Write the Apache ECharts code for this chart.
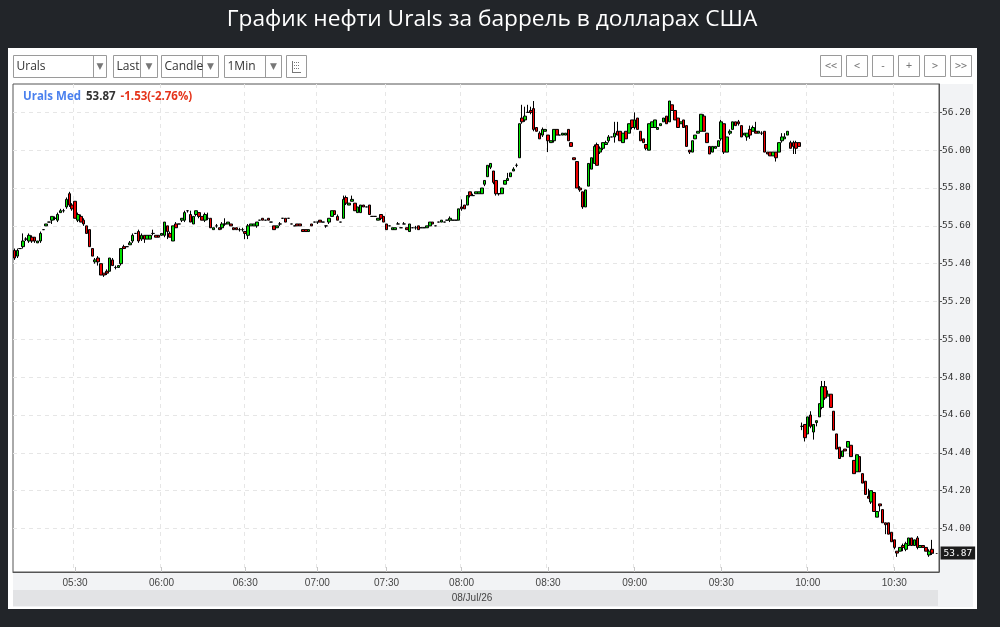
<!DOCTYPE html>
<html>
<head>
<meta charset="utf-8">
<script src="https://cdn.jsdelivr.net/npm/echarts@6/dist/echarts.min.js"></script>
<style>
html,body{margin:0;padding:0;background:#222529;}
#chart{width:1000px;height:627px;}
</style>
</head>
<body>
<div id="chart"></div>
<script>
// ---------------- DATA ----------------
const chartTitle = 'График нефти Urals за баррель в долларах США';
const instrumentName = 'Urals Med';
const changeText = '-1.53(-2.76%)';
const dateLabel = '08/Jul/26';
const startMinute = '05:09';
// minutes with no trades (not shown on the category axis)
const missingMinutes = ['06:17','06:36','06:41','06:46','06:51','06:56','07:04','07:08','07:13','07:18','07:22','07:26','07:35','07:42','07:48','07:54'];
const emptySlotsAtEnd = 2;
const xLabelMinutes = ['00', '30'];
const yTickValues = [54.0, 54.2, 54.4, 54.6, 54.8, 55.0, 55.2, 55.4, 55.6, 55.8, 56.0, 56.2];
const yMin = 53.77;
const yMax = 56.35;
const dropdownLabels = ['Urals', 'Last', 'Candle', '1Min'];
const navButtonLabels = ['<<', '<', '-', '+', '>', '>>'];

// 1-minute candles: [open, close, low, high]
const candles = [
  // 05:09 - 05:29
  [55.47,55.43,55.42,55.48],[55.44,55.47,55.43,55.48],[55.48,55.48,55.48,55.48],[55.49,55.52,55.48,55.56],
  [55.53,55.53,55.52,55.54],[55.52,55.55,55.51,55.56],[55.54,55.52,55.51,55.55],[55.54,55.52,55.51,55.54],
  [55.51,55.52,55.51,55.52],[55.52,55.56,55.51,55.57],[55.58,55.58,55.58,55.58],[55.60,55.61,55.60,55.61],
  [55.62,55.62,55.62,55.62],[55.63,55.65,55.61,55.65],[55.64,55.64,55.63,55.65],[55.63,55.66,55.62,55.67],
  [55.67,55.68,55.67,55.69],[55.68,55.68,55.67,55.69],[55.70,55.74,55.69,55.75],[55.77,55.71,55.70,55.78],
  [55.71,55.69,55.68,55.72],
  // 05:30 - 05:59
  [55.73,55.64,55.64,55.73],[55.63,55.66,55.62,55.67],[55.65,55.62,55.62,55.66],[55.63,55.61,55.60,55.64],
  [55.60,55.56,55.56,55.60],[55.58,55.49,55.49,55.58],[55.48,55.44,55.44,55.48],[55.41,55.42,55.40,55.43],
  [55.43,55.41,55.39,55.44],[55.40,55.34,55.34,55.40],[55.35,55.34,55.33,55.35],[55.36,55.35,55.34,55.37],
  [55.36,55.43,55.36,55.43],[55.42,55.39,55.39,55.43],[55.38,55.38,55.37,55.39],[55.38,55.39,55.38,55.39],
  [55.40,55.48,55.39,55.48],[55.49,55.48,55.48,55.50],[55.49,55.49,55.49,55.49],[55.50,55.51,55.50,55.52],
  [55.52,55.55,55.51,55.56],[55.56,55.56,55.56,55.56],[55.57,55.52,55.51,55.58],[55.53,55.55,55.52,55.56],
  [55.55,55.53,55.51,55.55],[55.53,55.55,55.53,55.55],[55.53,55.55,55.53,55.55],[55.56,55.56,55.55,55.58],
  [55.55,55.54,55.54,55.55],[55.55,55.54,55.54,55.55],
  // 06:00 - 06:29
  [55.55,55.56,55.55,55.56],[55.55,55.62,55.54,55.62],[55.60,55.57,55.53,55.60],[55.56,55.54,55.54,55.57],
  [55.52,55.60,55.52,55.60],[55.61,55.59,55.59,55.62],[55.61,55.61,55.61,55.61],[55.63,55.64,55.62,55.64],
  [55.63,55.67,55.62,55.68],[55.68,55.68,55.67,55.68],[55.66,55.62,55.62,55.68],[55.61,55.65,55.61,55.65],
  [55.66,55.68,55.65,55.68],[55.67,55.65,55.64,55.67],[55.65,55.63,55.63,55.65],[55.63,55.66,55.62,55.67],
  [55.64,55.64,55.63,55.67],[55.64,55.59,55.59,55.64],[55.58,55.59,55.58,55.59],[55.60,55.60,55.59,55.61],
  [55.59,55.58,55.58,55.59],[55.59,55.61,55.58,55.62],[55.61,55.61,55.60,55.64],[55.61,55.62,55.61,55.62],
  [55.61,55.60,55.60,55.61],[55.59,55.58,55.58,55.59],[55.59,55.58,55.58,55.59],[55.58,55.58,55.57,55.59],
  [55.58,55.58,55.57,55.59],
  // 06:30 - 06:59
  [55.57,55.56,55.53,55.57],[55.55,55.60,55.53,55.61],[55.60,55.61,55.60,55.61],[55.60,55.61,55.60,55.61],
  [55.60,55.62,55.59,55.62],[55.63,55.63,55.63,55.63],[55.64,55.63,55.63,55.64],[55.63,55.63,55.63,55.63],
  [55.64,55.63,55.63,55.64],[55.62,55.62,55.62,55.62],[55.60,55.58,55.58,55.60],[55.59,55.60,55.59,55.60],
  [55.61,55.61,55.60,55.62],[55.64,55.64,55.64,55.64],[55.64,55.62,55.62,55.64],[55.64,55.64,55.64,55.64],
  [55.61,55.61,55.61,55.61],[55.60,55.60,55.60,55.60],[55.61,55.60,55.60,55.61],[55.61,55.60,55.60,55.61],
  [55.58,55.57,55.57,55.58],[55.58,55.57,55.57,55.58],[55.57,55.58,55.57,55.58],[55.61,55.60,55.60,55.61],
  [55.62,55.62,55.62,55.62],
  // 07:00 - 07:29
  [55.62,55.62,55.61,55.62],[55.63,55.62,55.62,55.63],[55.62,55.62,55.62,55.62],[55.60,55.60,55.59,55.60],
  [55.62,55.64,55.61,55.64],[55.65,55.68,55.65,55.68],[55.68,55.66,55.66,55.68],[55.65,55.63,55.63,55.66],
  [55.62,55.62,55.62,55.62],[55.64,55.74,55.64,55.76],[55.75,55.72,55.71,55.76],[55.71,55.72,55.71,55.72],
  [55.73,55.74,55.73,55.76],[55.72,55.68,55.68,55.72],[55.67,55.70,55.67,55.70],[55.67,55.71,55.67,55.71],
  [55.71,55.70,55.70,55.71],[55.70,55.70,55.70,55.70],[55.71,55.66,55.66,55.71],[55.65,55.65,55.65,55.65],
  [55.65,55.65,55.65,55.65],[55.63,55.64,55.63,55.64],[55.66,55.64,55.63,55.66],[55.65,55.62,55.62,55.65],
  // 07:30 - 07:59
  [55.61,55.58,55.58,55.61],[55.60,55.60,55.60,55.60],[55.58,55.59,55.58,55.59],[55.58,55.59,55.58,55.59],
  [55.61,55.61,55.61,55.62],[55.59,55.59,55.59,55.59],[55.61,55.61,55.61,55.62],[55.59,55.58,55.58,55.59],
  [55.57,55.61,55.57,55.61],[55.59,55.59,55.59,55.59],[55.59,55.59,55.58,55.60],[55.60,55.58,55.58,55.60],
  [55.59,55.59,55.59,55.59],[55.59,55.59,55.59,55.59],[55.59,55.60,55.59,55.60],[55.60,55.62,55.60,55.62],
  [55.62,55.61,55.61,55.62],[55.60,55.60,55.60,55.60],[55.62,55.62,55.62,55.62],[55.62,55.63,55.62,55.63],
  [55.62,55.62,55.62,55.62],[55.63,55.63,55.63,55.63],[55.63,55.64,55.62,55.65],[55.63,55.63,55.63,55.63],
  [55.63,55.63,55.63,55.63],[55.63,55.69,55.63,55.69],
  // 08:00 - 08:29
  [55.70,55.69,55.68,55.74],[55.71,55.69,55.69,55.71],[55.71,55.76,55.71,55.76],[55.78,55.76,55.75,55.78],
  [55.76,55.76,55.76,55.77],[55.77,55.78,55.77,55.78],[55.77,55.78,55.77,55.78],[55.77,55.80,55.77,55.80],
  [55.82,55.84,55.81,55.84],[55.86,55.92,55.86,55.92],[55.91,55.93,55.90,55.93],[55.89,55.83,55.82,55.89],
  [55.84,55.77,55.76,55.84],[55.77,55.77,55.76,55.77],[55.77,55.80,55.77,55.80],[55.82,55.84,55.82,55.84],
  [55.84,55.85,55.84,55.88],[55.86,55.88,55.86,55.88],[55.89,55.90,55.89,55.91],[55.92,55.92,55.91,55.93],
  [55.96,56.14,55.96,56.14],[56.17,56.15,56.14,56.24],[56.16,56.18,56.15,56.23],[56.20,56.20,56.20,56.24],
  [56.21,56.20,56.19,56.23],[56.22,56.11,56.10,56.26],[56.12,56.10,56.10,56.12],[56.09,56.06,56.06,56.10],
  [56.08,56.11,56.07,56.12],[56.10,56.11,56.10,56.11],
  // 08:30 - 08:59
  [56.08,56.05,55.99,56.08],[56.04,56.05,56.04,56.05],[56.05,56.11,56.04,56.11],[56.11,56.08,56.08,56.11],
  [56.08,56.08,56.08,56.08],[56.08,56.09,56.08,56.09],[56.08,56.09,56.08,56.09],[56.11,56.05,56.05,56.11],
  [56.04,56.02,56.02,56.04],[55.96,55.95,55.95,55.96],[55.94,55.80,55.80,55.94],[55.80,55.79,55.78,55.81],
  [55.78,55.70,55.69,55.78],[55.70,55.79,55.70,55.79],[55.81,55.93,55.81,55.93],[55.90,55.96,55.90,55.96],
  [55.93,56.02,55.93,56.03],[56.03,55.92,55.92,56.04],[55.99,56.01,55.98,56.02],[56.01,56.04,56.00,56.04],
  [56.03,56.04,56.03,56.05],[56.05,56.07,56.04,56.08],[56.07,56.07,56.07,56.07],[56.07,56.09,56.04,56.15],
  [56.10,56.08,56.08,56.15],[56.10,56.05,56.05,56.10],[56.04,56.09,56.04,56.09],[56.10,56.06,56.06,56.10],
  [56.09,56.14,56.09,56.14],[56.16,56.12,56.11,56.16],
  // 09:00 - 09:29
  [56.12,56.16,56.11,56.20],[56.17,56.11,56.11,56.17],[56.10,56.05,56.05,56.10],[56.06,56.04,56.04,56.06],
  [56.03,56.01,56.00,56.03],[56.00,56.14,56.00,56.14],[56.12,56.15,56.12,56.15],[56.12,56.16,56.12,56.16],
  [56.11,56.12,56.11,56.12],[56.13,56.14,56.13,56.14],[56.15,56.17,56.15,56.17],[56.18,56.14,56.14,56.18],
  [56.15,56.26,56.15,56.26],[56.24,56.21,56.21,56.24],[56.21,56.16,56.16,56.21],[56.17,56.12,56.12,56.17],
  [56.14,56.15,56.14,56.15],[56.16,56.12,56.12,56.16],[56.13,56.02,56.02,56.13],[56.00,55.99,55.98,56.00],
  [55.99,56.05,55.99,56.05],[56.06,56.08,56.06,56.08],[56.09,56.10,56.09,56.10],[56.10,56.19,56.10,56.19],
  [56.18,56.10,56.10,56.19],[56.09,56.04,56.04,56.09],[56.02,55.98,55.98,56.02],[55.99,56.02,55.99,56.02],
  [56.01,56.02,56.01,56.02],[56.02,56.05,56.02,56.05],
  // 09:30 - 09:59
  [56.06,56.15,56.05,56.16],[56.14,55.99,55.98,56.14],[55.99,56.07,55.99,56.07],[56.09,56.10,56.08,56.11],
  [56.11,56.15,56.11,56.15],[56.15,56.13,56.13,56.15],[56.15,56.14,56.13,56.16],[56.13,56.07,56.07,56.13],
  [56.08,56.09,56.08,56.09],[56.07,56.09,56.05,56.09],[56.11,56.08,56.06,56.13],[56.10,56.12,56.10,56.13],
  [56.10,56.09,56.09,56.15],[56.09,56.10,56.09,56.10],[56.09,56.09,56.08,56.10],[56.10,55.99,55.99,56.10],
  [55.99,55.98,55.98,55.99],[55.99,55.97,55.97,55.99],[55.97,55.99,55.97,55.99],[55.99,55.96,55.94,55.99],
  [55.99,56.04,55.99,56.04],[56.05,56.07,56.04,56.09],[56.06,56.07,56.06,56.09],[56.08,56.10,56.08,56.10],
  [56.04,56.01,56.01,56.05],[56.04,56.02,55.98,56.05],[56.04,56.01,55.98,56.05],[56.04,56.02,56.02,56.04],
  [54.54,54.54,54.52,54.56],[54.55,54.48,54.46,54.55],
  // 10:00 - 10:29
  [54.50,54.59,54.50,54.59],[54.60,54.54,54.53,54.62],[54.51,54.55,54.47,54.55],[54.56,54.57,54.54,54.57],
  [54.59,54.66,54.59,54.66],[54.64,54.75,54.63,54.78],[54.75,54.69,54.68,54.78],[54.70,54.71,54.70,54.73],
  [54.71,54.64,54.64,54.71],[54.62,54.52,54.52,54.62],[54.50,54.42,54.42,54.50],[54.43,54.37,54.37,54.43],
  [54.38,54.41,54.38,54.41],[54.42,54.41,54.41,54.42],[54.43,54.46,54.43,54.46],[54.44,54.38,54.38,54.44],
  [54.36,54.29,54.29,54.36],[54.30,54.39,54.30,54.39],[54.38,54.30,54.30,54.38],[54.29,54.24,54.24,54.29],
  [54.25,54.18,54.18,54.25],[54.17,54.16,54.16,54.21],[54.14,54.20,54.13,54.20],[54.19,54.09,54.09,54.19],
  [54.06,54.09,54.06,54.09],[54.13,54.12,54.09,54.13],[54.10,54.03,54.03,54.10],[54.03,54.02,53.97,54.03],
  [54.03,53.97,53.97,54.03],[53.98,53.93,53.93,53.98],
  // 10:30 - 10:43
  [53.94,53.90,53.89,53.94],[53.88,53.87,53.85,53.88],[53.88,53.90,53.88,53.90],[53.91,53.90,53.88,53.92],
  [53.89,53.92,53.88,53.93],[53.91,53.95,53.91,53.95],[53.95,53.91,53.91,53.95],[53.91,53.94,53.91,53.94],
  [53.95,53.90,53.89,53.96],[53.90,53.91,53.90,53.91],[53.91,53.90,53.90,53.91],[53.90,53.88,53.88,53.90],
  [53.86,53.88,53.85,53.89],[53.89,53.87,53.86,53.94]
];

// ---------------- BUILD ----------------
function buildCategories() {
  const parts = startMinute.split(':').map(Number);
  let t = parts[0] * 60 + parts[1];
  const out = [];
  const total = candles.length + emptySlotsAtEnd;
  while (out.length < total) {
    const s = String(Math.floor(t / 60)).padStart(2, '0') + ':' + String(t % 60).padStart(2, '0');
    if (missingMinutes.indexOf(s) < 0) out.push(s);
    t++;
  }
  return out;
}
const categories = buildCategories();
const lastClose = candles[candles.length - 1][1];
const lastCategory = categories[candles.length - 1];
const endCategory = categories[categories.length - 1];
const isLabelTime = (idx, val) => xLabelMinutes.indexOf(String(val).slice(3)) >= 0;

const UI_FONT = '"Open Sans", "Noto Sans", sans-serif';
const AX_FONT = '"Liberation Sans", Arial, sans-serif';

// layout graphics
const graphics = [];
graphics.push({ type: 'rect', z: -10, shape: { x: 8, y: 48, width: 969, height: 561 }, style: { fill: '#ffffff' } });
graphics.push({ type: 'rect', z: -9, shape: { x: 13, y: 84, width: 960, height: 523 }, style: { fill: '#f2f3f5' } });
graphics.push({ type: 'rect', z: -8, shape: { x: 13, y: 590, width: 925, height: 16 }, style: { fill: '#e2e3e5' } });
graphics.push({ type: 'text', x: 472, y: 598, style: { text: dateLabel, align: 'center', verticalAlign: 'middle', fill: '#444', fontSize: 10, fontFamily: AX_FONT } });
graphics.push({ type: 'text', x: 492, y: 20, style: { text: chartTitle, align: 'center', verticalAlign: 'middle', fill: '#ffffff', fontSize: 22.7, fontFamily: UI_FONT } });

const ddLayout = [
  { x: 13.5, w: 93, sep: 93.5 },
  { x: 113.5, w: 44, sep: 140.5 },
  { x: 161.5, w: 57, sep: 202.5 },
  { x: 224.5, w: 57, sep: 265.5 }
];
dropdownLabels.forEach((lab, k) => {
  const L = ddLayout[k];
  graphics.push({ type: 'rect', shape: { x: L.x, y: 55.5, width: L.w, height: 22 }, style: { fill: '#fff', stroke: '#9a9a9a', lineWidth: 1 } });
  graphics.push({ type: 'line', shape: { x1: L.sep, y1: 56, x2: L.sep, y2: 77 }, style: { stroke: '#9a9a9a', lineWidth: 1 } });
  graphics.push({ type: 'text', x: L.x + 3, y: 67, style: { text: lab, align: 'left', verticalAlign: 'middle', fill: '#333', fontSize: 12, fontFamily: UI_FONT } });
  graphics.push({ type: 'text', x: (L.sep + L.x + L.w) / 2, y: 66.5, style: { text: '▼', align: 'center', verticalAlign: 'middle', fill: '#777', fontSize: 9, fontFamily: '"DejaVu Sans", sans-serif' } });
});
// list icon box
graphics.push({ type: 'rect', shape: { x: 286.5, y: 55.5, width: 20, height: 22 }, style: { fill: '#fff', stroke: '#9a9a9a', lineWidth: 1 } });
graphics.push({ type: 'line', shape: { x1: 292.5, y1: 61, x2: 292.5, y2: 72 }, style: { stroke: '#777', lineWidth: 1 } });
graphics.push({ type: 'line', shape: { x1: 292, y1: 72.5, x2: 301, y2: 72.5 }, style: { stroke: '#777', lineWidth: 1 } });
[62.5, 65.5, 68.5].forEach(yy => {
  graphics.push({ type: 'line', shape: { x1: 294, y1: yy, x2: 300, y2: yy }, style: { stroke: '#777', lineWidth: 1, lineDash: [1, 1] } });
});
navButtonLabels.forEach((lab, k) => {
  const x = 820.5 + k * 26;
  graphics.push({ type: 'rect', shape: { x: x, y: 55.5, width: 21, height: 21 }, style: { fill: '#fff', stroke: '#9a9a9a', lineWidth: 1 } });
  graphics.push({ type: 'text', x: x + 10.5, y: 66, style: { text: lab, align: 'center', verticalAlign: 'middle', fill: '#777', fontSize: 10, fontFamily: '"DejaVu Sans Mono", monospace' } });
});

const chart = echarts.init(document.getElementById('chart'), null, { renderer: 'canvas' });
chart.setOption({
  backgroundColor: '#222529',
  animation: false,
  title: {
    text: '{a|' + instrumentName + '} {b|' + lastClose.toFixed(2) + '} {c|' + changeText + '}',
    left: 18, top: 83,
    textStyle: {
      rich: {
        a: { color: '#4a80ee', fontWeight: 'bold', fontSize: 11.5, fontFamily: UI_FONT },
        b: { color: '#333', fontWeight: 'bold', fontSize: 11.5, fontFamily: UI_FONT },
        c: { color: '#e5341b', fontWeight: 'bold', fontSize: 11.5, fontFamily: UI_FONT }
      }
    }
  },
  graphic: graphics,
  grid: { left: 13, right: 61, top: 84, bottom: 55, show: true, backgroundColor: '#ffffff', borderColor: '#555', borderWidth: 1 },
  xAxis: {
    type: 'category',
    data: categories,
    boundaryGap: true,
    axisLine: { show: true, lineStyle: { color: '#555' } },
    axisTick: { show: true, inside: true, length: 5, alignWithLabel: true, interval: isLabelTime, lineStyle: { color: '#c8c8c8' } },
    axisLabel: { interval: isLabelTime, color: '#444', fontSize: 10, fontFamily: AX_FONT, margin: 6 },
    splitLine: { show: true, interval: isLabelTime, lineStyle: { color: '#e6e6e6', type: [4, 4] } }
  },
  yAxis: {
    type: 'value',
    position: 'right',
    min: yMin,
    max: yMax,
    scale: true,
    axisLine: { show: true, lineStyle: { color: '#555' } },
    axisTick: { show: true, length: 3, customValues: yTickValues, lineStyle: { color: '#555' } },
    axisLabel: { customValues: yTickValues, formatter: v => Number(v).toFixed(2), color: '#333', fontSize: 9.5, fontFamily: '"DejaVu Sans Mono", monospace', margin: 3 },
    splitLine: { show: true, lineStyle: { color: '#e6e6e6', type: [4, 4] } }
  },
  series: [{
    type: 'candlestick',
    data: candles,
    barWidth: 3,
    itemStyle: { color: '#00e000', color0: '#ee0000', borderColor: '#000', borderColor0: '#000', borderWidth: 1 },
    markLine: {
      silent: true,
      symbol: 'none',
      lineStyle: { color: '#333', type: [2, 2], width: 1 },
      label: {
        show: true, position: 'end', distance: 3,
        formatter: lastClose.toFixed(2),
        color: '#fff', backgroundColor: '#1c1c1c', padding: [2, 3, 1, 3],
        fontSize: 9.5, fontFamily: '"DejaVu Sans Mono", monospace'
      },
      data: [[{ coord: [lastCategory, lastClose] }, { coord: [endCategory, lastClose] }]]
    }
  }]
});
</script>
</body>
</html>
